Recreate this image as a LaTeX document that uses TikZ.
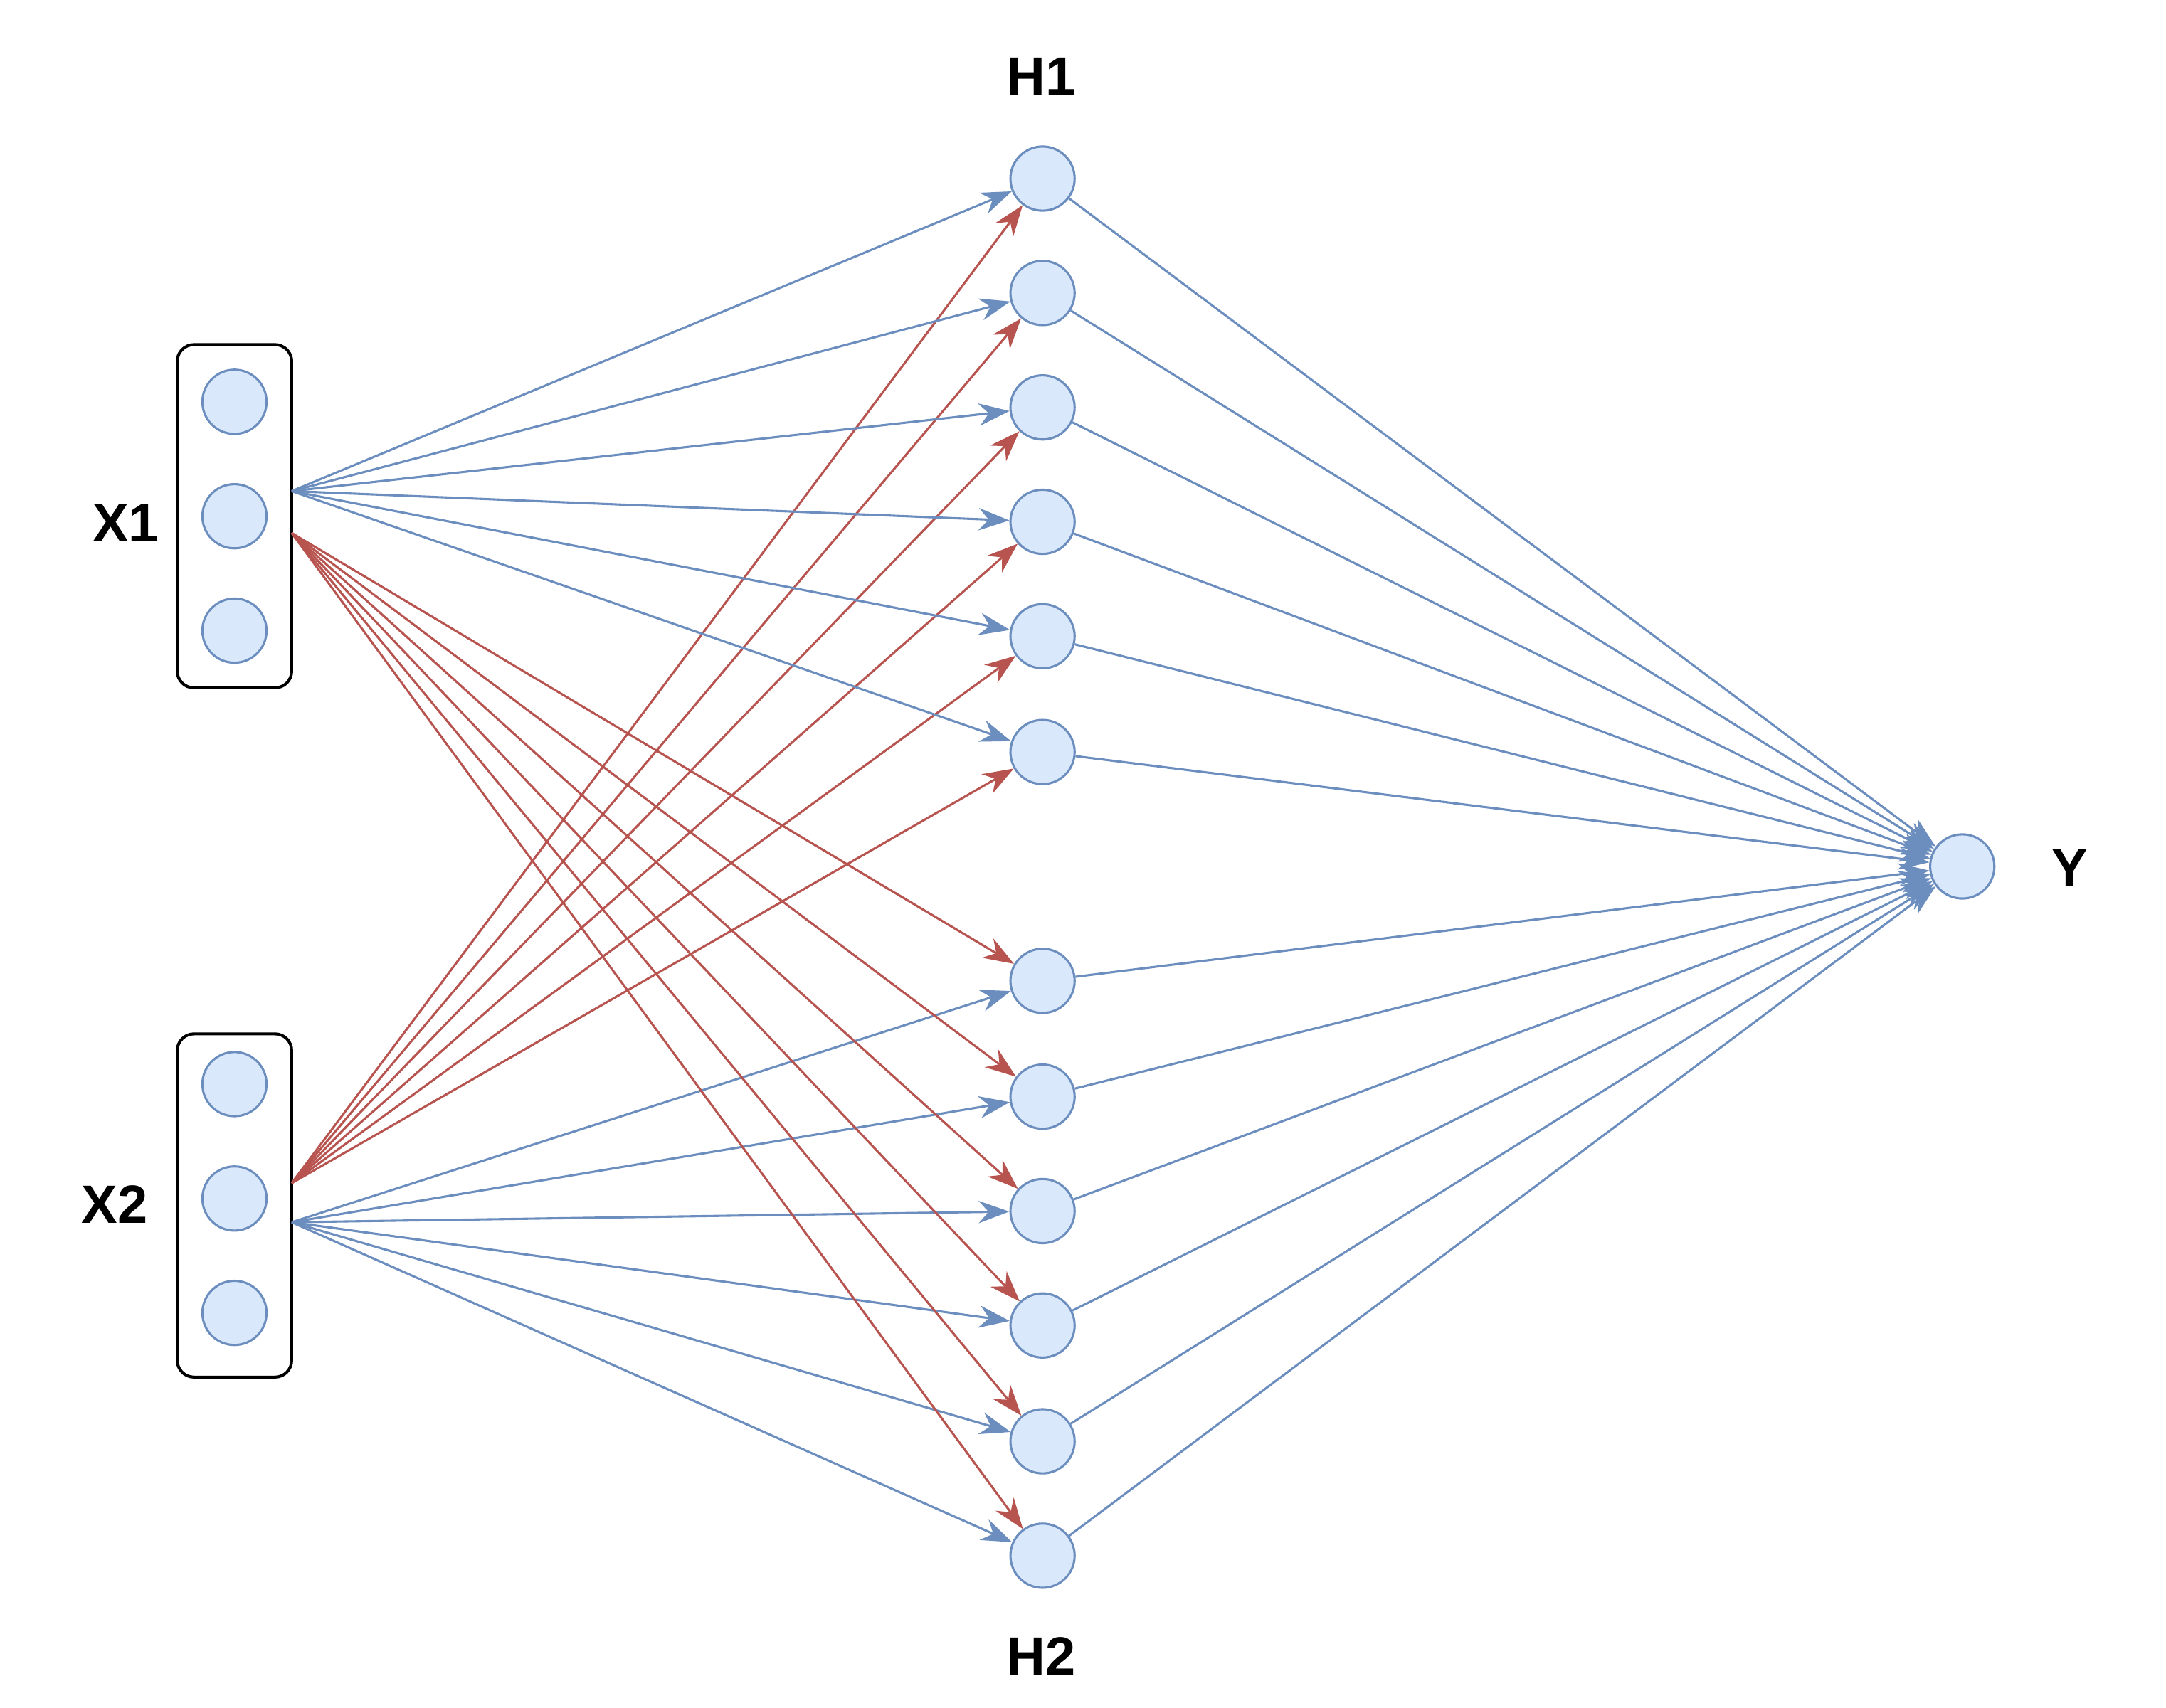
\documentclass[tikz,border=0pt]{standalone}
\usepackage{fontspec}
\setmainfont{Liberation Sans}
\usetikzlibrary{arrows.meta}
\definecolor{eb}{HTML}{6C8EBF}
\definecolor{er}{HTML}{B85450}
\definecolor{nf}{HTML}{DAE8FC}
\begin{document}
\begin{tikzpicture}[x=0.1mm,y=-0.1mm,
  neur/.style={circle,draw=eb,fill=nf,line width=0.45pt,minimum size=4.6mm,inner sep=0pt},
  grp/.style={draw=black,rounded corners=1.2mm,line width=0.6pt},
  lbl/.style={font=\bfseries\fontsize{11}{13}\selectfont},
  bl/.style={draw=eb,line width=0.45pt,-{Stealth[length=2.2mm,width=1.6mm]}},
  rd/.style={draw=er,line width=0.45pt,-{Stealth[length=2.2mm,width=1.6mm]}}]
\useasboundingbox (0,0) rectangle (1552,1224);
\draw[grp] (127,247) rectangle (209,493);
\draw[grp] (127,741) rectangle (209,987);
\foreach \i/\y in {1/288,2/370,3/452} \node[neur] (a\i) at (168,\y) {};
\foreach \i/\y in {1/777,2/859,3/941} \node[neur] (b\i) at (168,\y) {};
\foreach \i/\y in {1/128,2/210,3/292,4/374,5/456,6/539} \node[neur] (h\i) at (747,\y) {};
\foreach \i/\y in {1/703,2/786,3/868,4/950,5/1033,6/1115} \node[neur] (g\i) at (747,\y) {};
\node[neur] (y) at (1406,621) {};
\node[lbl] (lh1) at (746,55) {H1};
\node[lbl] (lh2) at (746,1187) {H2};
\node[lbl] (lx1) at (90,375) {X1};
\node[lbl] (lx2) at (82,863) {X2};
\node[lbl] (ly) at (1483,622) {Y};
\coordinate (sb1) at (209,352);
\coordinate (sr1) at (209,382);
\coordinate (sr2) at (209,848);
\coordinate (sb2) at (209,876);
\foreach \i in {1,...,6} {
  \draw[bl] (sb1) -- (h\i);
  \draw[rd] (sr1) -- (g\i);
  \draw[rd] (sr2) -- (h\i);
  \draw[bl] (sb2) -- (g\i);
  \draw[bl] (h\i) -- (y);
  \draw[bl] (g\i) -- (y);
}
\end{tikzpicture}
\end{document}
